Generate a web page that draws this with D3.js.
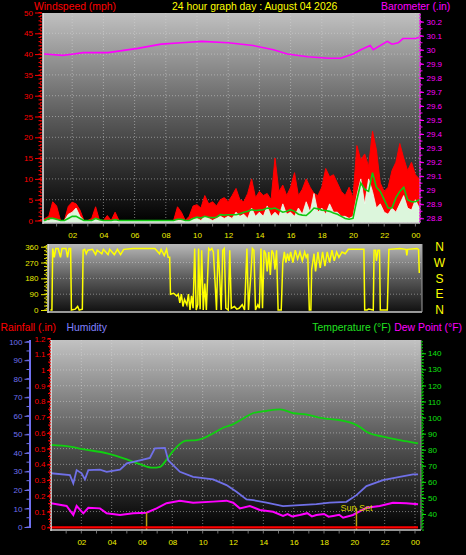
<!DOCTYPE html>
<html><head><meta charset="utf-8">
<script src="https://cdn.jsdelivr.net/npm/d3@7"></script>
<style>
body{margin:0;background:#000;}
svg{display:block;font-family:"Liberation Sans",Arial,sans-serif;}
</style>
</head><body>
<svg id="c" width="466" height="555"></svg>
<script>
// ---------------- DATA ----------------
const titleText = "24 hour graph day : August 04 2026";
const hourTicks = [2,4,6,8,10,12,14,16,18,20,22,24];
const hourLabels = ["02","04","06","08","10","12","14","16","18","20","22","00"];

// wind samples every 0.25 h starting at 00:00
const windStep = 0.25;
const windGust = [
 0,0.5,1,4.5,3.5,0,0,3.4,
 4.4,4,2.5,0,0,0.5,3.3,0,
 0,1.2,0,2,0,0,0,0,
 0,0,0,0,0,0,0,0,
 0,0,0,3.3,2,0,1,3.5,
 3.8,3,6,4,4.5,3.5,5,5.5,
 4.5,6,7.7,5,4.5,6.5,10,5.5,
 7,6,6.5,5,15,7,8.5,6,
 8,11.5,6,7.5,10,8,6.5,6,
 8,12.5,10.5,11,9,7,6,8,
 5.5,18,14.5,16,13,21.5,17,9,
 7,8,12,14,18.5,15,12,14,
 11,10];
const windAvg = [
 0,0,0.5,0.5,0.3,0,0,0.5,
 1,1,0.5,0,0,0,0.5,0.2,
 0,0,0,0.2,0,0,0,0,
 0,0,0,0,0,0,0,0,
 0,0,0,0.3,0.3,0,0,0.5,
 0.8,0.6,1,0.8,0.7,0.8,1.4,1.3,
 1.4,1.4,1.4,1.6,2,2.2,2.6,2.4,
 2.5,2.6,3,2.8,3,2.5,2,2.2,
 2.6,2.2,1.5,1.3,1.2,2,3,2.8,
 2.5,2.4,2.2,1.8,1.5,1,0.5,0.3,
 0.5,5,9,7.5,7,11.5,8,7,
 5,3,3,5.5,7,8,5,4.5,
 4.5,5];
const windSpeed = [
 0,0,0,0.5,0,0,0,1.5,
 2,3,1,0,0,0,0.5,0,
 0,0,0,0,0,0,0,0,
 0,0,0,0,0,0,0,0,
 0,0,0,0,0,0,0,0.5,
 0.5,0,1,0.5,0,0.5,1,0.5,
 1,0.5,2,1,1.5,0.5,3,1,
 2,1,3.5,1,2,1,4,1.5,
 2,1,3,1.5,4.5,2,6.5,2,
 3,1.5,4,2,2,1,1,0.5,
 1,6,10,4,10,7,3,4,
 2,1.5,3,2,4,6,3,2.5,
 5,3];

const baroHours = [0.2,1.4,2.1,2.7,4.3,6.2,7.7,9.0,10.3,12.0,13.6,14.9,15.8,17.1,18.4,19.2,20.0,20.5,21.1,21.3,22.2,22.5,22.9,23.2,24.0,24.25];
const baroValues = [29.97,29.96,29.97,29.98,29.98,30.01,30.04,30.05,30.06,30.05,30.03,30.00,29.97,29.95,29.94,29.94,29.97,30.00,30.03,30.00,30.06,30.04,30.05,30.08,30.08,30.09];

const dirHours = [0.6,0.7,0.75,0.85,0.95,1.1,1.25,1.35,1.6,1.7,1.8,1.9,1.95,2.2,2.35,2.45,2.65,2.7,2.8,2.9,3.0,3.3,3.5,3.6,3.9,4.0,4.3,4.4,4.7,4.9,5.1,5.3,5.9,6.5,7.3,7.6,7.7,7.9,8.05,8.15,8.25,8.3,8.5,8.7,8.8,8.9,9.0,9.1,9.2,9.35,9.45,9.55,9.65,9.75,9.85,9.95,10.05,10.1,10.2,10.3,10.4,10.5,10.6,10.75,10.85,10.95,11.05,11.15,11.25,11.35,11.45,11.55,11.65,11.75,11.85,12.0,12.1,12.2,12.4,12.55,12.7,12.9,13.05,13.2,13.3,13.45,13.55,13.65,13.75,13.9,14.0,14.1,14.2,14.3,14.4,14.5,14.6,14.7,14.8,14.9,15.0,15.1,15.2,15.4,15.5,15.6,15.7,15.8,15.9,16.0,16.15,16.3,16.45,16.6,16.75,16.9,17.0,17.1,17.2,17.3,17.35,17.5,17.6,17.75,17.9,18.05,18.2,18.35,18.5,18.65,18.8,18.95,19.1,19.3,19.5,19.7,20.0,20.3,20.7,20.75,20.9,21.0,21.3,21.35,21.45,21.5,21.6,21.7,21.75,22.2,22.3,23.0,23.4,23.45,23.5,24.1,24.2,24.25];
const dirValues = [0,0,350,300,350,350,300,350,350,300,350,350,0,5,20,0,5,340,345,320,340,345,315,340,320,345,315,345,315,345,315,345,350,350,350,320,345,310,345,300,300,90,95,80,90,40,90,20,60,30,90,0,80,10,350,0,30,350,5,340,0,150,0,350,340,350,330,170,0,345,200,0,340,350,10,0,340,10,20,5,10,30,0,350,0,200,350,340,0,30,10,350,10,340,320,220,330,200,340,320,230,340,0,0,270,330,270,320,280,330,270,340,290,330,280,330,300,320,0,0,230,320,220,330,240,330,250,330,270,340,280,330,300,330,320,345,345,345,345,0,0,5,0,340,340,280,340,340,0,0,345,350,345,310,345,350,345,210];

const tempHours = [0,1.25,2.1,3.7,5.0,5.9,6.7,7.2,7.6,8.1,8.9,9.6,10.5,11.35,12.0,12.7,13.3,14.2,15.1,16.0,16.8,17.9,19.0,19.9,20.35,20.8,21.9,23.0,24.2];
const tempValues = [83,81.9,80.3,77.8,74,70.9,68.8,69.4,73.6,79.8,85.6,86,89.2,93.7,95.8,99.6,102.7,104.1,105.1,102.7,102,99.6,98.5,96.4,94.3,91.2,88.1,86,84];

const humHours = [0,1.25,1.47,1.69,2.02,2.24,2.46,3.23,3.67,4.55,5.0,5.86,6.52,6.85,7.51,7.73,8.5,9.37,10.69,11.57,12.23,12.89,13.33,14.21,15.3,16.4,17.5,18.38,19.48,20.14,20.8,21.89,22.99,23.87,24.2];
const humValues = [29,28,23.5,30.7,29,25.7,30.7,31,29.8,31,34.3,36,37.3,42.4,42.7,36,29.8,27.1,25.7,22.6,19,14.9,14.5,13.1,11.3,11.8,12.4,13.1,13.6,17.2,22.1,25.3,27.1,28.4,28.4];

const dewHours = [0,1.03,1.47,1.69,2.13,2.46,3.23,3.67,4.55,5.42,6.3,6.96,7.62,8.5,9.37,10.69,11.57,12.01,12.45,13.11,13.77,14.65,15.3,15.6,15.9,16.4,16.9,17.2,17.5,18.0,18.3,18.6,19.0,19.26,19.91,20.8,21.67,22.55,23.43,24.2];
const dewValues = [46.7,45,39.4,45,40.4,43.9,43.5,40.4,39.4,40.4,40.8,43.5,46.7,48.3,47,47.7,48.3,47,43.5,45,42.5,41.4,38.8,40,38.5,39.4,40.5,38.5,39.4,40,38.3,38.8,39.5,37.7,39.4,43.9,45,47,46.7,46];

const rainHours = [0,24.2];
const rainValues = [0,0];

const sunEvents = [6.3, 20.14];
const sunLabels = ["", "Sun Set"];

const windTicks = [0,5,10,15,20,25,30,35,40,45,50];
const baroTicks = [28.8,28.9,29.0,29.1,29.2,29.3,29.4,29.5,29.6,29.7,29.8,29.9,30.0,30.1,30.2];
const dirTicks = [0,90,180,270,360];
const compass = ["N","E","S","W","N"];
const rainTicks = [0,0.1,0.2,0.3,0.4,0.5,0.6,0.7,0.8,0.9,1,1.1,1.2];
const humTicks = [0,10,20,30,40,50,60,70,80,90,100];
const tempTicks = [40,50,60,70,80,90,100,110,120,130,140];

// ---------------- DRAW ----------------
const svg = d3.select("#c");
const defs = svg.append("defs");
function grad(id, top, mid, bot){
  const g = defs.append("linearGradient").attr("id",id).attr("x1",0).attr("y1",0).attr("x2",0).attr("y2",1);
  g.append("stop").attr("offset","0%").attr("stop-color",top);
  g.append("stop").attr("offset","50%").attr("stop-color",mid);
  g.append("stop").attr("offset","100%").attr("stop-color",bot);
}
grad("gTop","#c0c0c0","#5a5a5a","#000");
grad("gDir","#b8b8b8","#5a5a5a","#101010");
grad("gBot","#c2c2c2","#5c5c5c","#000");

const P = {
  top:{x0:43,x1:420,y0:13,y1:223},
  dir:{x0:48,x1:422,y0:244,y1:312},
  bot:{x0:51,x1:421,y0:340,y1:530}
};
function panel(p, gid, cid){
  defs.append("clipPath").attr("id",cid).append("rect")
    .attr("x",p.x0).attr("y",p.y0).attr("width",p.x1-p.x0).attr("height",p.y1-p.y0);
  svg.append("rect").attr("x",p.x0).attr("y",p.y0).attr("width",p.x1-p.x0).attr("height",p.y1-p.y0)
    .attr("fill",`url(#${gid})`);
}
panel(P.top,"gTop","cTop");
panel(P.dir,"gDir","cDir");
panel(P.bot,"gBot","cBot");

const xTop = d3.scaleLinear().domain([0,24]).range([41,415.4]);
const xBot = d3.scaleLinear().domain([0,24]).range([51,415]);
const yWind = d3.scaleLinear().domain([0,50]).range([220.5,12.5]);
const yBaro = d3.scaleLinear().domain([28.8,30.2]).range([218.3,21.7]);
const yDir = d3.scaleLinear().domain([0,360]).range([310,246.7]);
const yHum = d3.scaleLinear().domain([0,100]).range([527,341.7]);
const yRain = d3.scaleLinear().domain([0,1.2]).range([527.3,338.5]);
const yTemp = d3.scaleLinear().domain([40,140]).range([514,353.3]);

const gridCol = "#d8d8d8";
function vgrid(p, xs, vals, clip){
  svg.append("g").attr("clip-path",`url(#${clip})`).selectAll("line").data(vals).join("line")
    .attr("x1",d=>xs(d)).attr("x2",d=>xs(d)).attr("y1",p.y0).attr("y2",p.y1)
    .attr("stroke",gridCol).attr("stroke-width",1).attr("stroke-dasharray","1,2").attr("opacity",0.5);
}
function hgrid(p, ys, vals, clip){
  svg.append("g").attr("clip-path",`url(#${clip})`).selectAll("line").data(vals).join("line")
    .attr("x1",p.x0).attr("x2",p.x1).attr("y1",d=>ys(d)).attr("y2",d=>ys(d))
    .attr("stroke",gridCol).attr("stroke-width",1).attr("stroke-dasharray","1,2").attr("opacity",0.5);
}
vgrid(P.top, xTop, hourTicks, "cTop");
hgrid(P.top, yWind, windTicks.slice(1), "cTop");
hgrid(P.dir, yDir, [90,180,270], "cDir");
vgrid(P.bot, xBot, hourTicks, "cBot");
hgrid(P.bot, yRain, rainTicks.slice(1), "cBot");

// ---- top chart series
const windTimes = windGust.map((d,i)=>i*windStep);
const gTop = svg.append("g").attr("clip-path","url(#cTop)");
gTop.append("path").datum(windGust)
  .attr("d", d3.area().x((d,i)=>xTop(windTimes[i])).y0(yWind(0)).y1(d=>yWind(d)))
  .attr("fill","#ff0000").attr("stroke","#ff0000").attr("stroke-width",1);
gTop.append("path").datum(windSpeed)
  .attr("d", d3.area().x((d,i)=>xTop(windTimes[i])).y0(yWind(0)+2).y1(d=>yWind(d)))
  .attr("fill","#dcf6dc").attr("stroke","#f0fff0").attr("stroke-width",0.8);
gTop.append("path").datum(windAvg)
  .attr("d", d3.line().x((d,i)=>xTop(windTimes[i])).y(d=>yWind(d)))
  .attr("fill","none").attr("stroke","#10c810").attr("stroke-width",1.6);
gTop.append("path").datum(baroValues)
  .attr("d", d3.line().x((d,i)=>xTop(baroHours[i])).y(d=>yBaro(d)))
  .attr("fill","none").attr("stroke","#ff00ff").attr("stroke-width",1.6);

// ---- direction
svg.append("g").attr("clip-path","url(#cDir)").append("path").datum(dirValues)
  .attr("d", d3.line().x((d,i)=>xTop(dirHours[i])).y(d=>yDir(d)))
  .attr("fill","none").attr("stroke","#ffff00").attr("stroke-width",1.5);

// ---- bottom chart
const gBot = svg.append("g").attr("clip-path","url(#cBot)");
gBot.append("path").datum(tempValues)
  .attr("d", d3.line().x((d,i)=>xBot(tempHours[i])).y(d=>yTemp(d)).curve(d3.curveMonotoneX))
  .attr("fill","none").attr("stroke","#10d010").attr("stroke-width",1.8);
gBot.append("path").datum(humValues)
  .attr("d", d3.line().x((d,i)=>xBot(humHours[i])).y(d=>yHum(d)))
  .attr("fill","none").attr("stroke","#7070e8").attr("stroke-width",1.8);
gBot.append("path").datum(dewValues)
  .attr("d", d3.line().x((d,i)=>xBot(dewHours[i])).y(d=>yTemp(d)))
  .attr("fill","none").attr("stroke","#ff00ff").attr("stroke-width",2);
gBot.selectAll("line.sun").data(sunEvents).join("line").attr("class","sun")
  .attr("x1",d=>xBot(d)).attr("x2",d=>xBot(d))
  .attr("y1",(d,i)=>i===0?512.5:508).attr("y2",P.bot.y1)
  .attr("stroke","#b8a010").attr("stroke-width",1.5);
gBot.selectAll("text.sun").data(sunEvents).join("text").attr("class","sun")
  .attr("x",d=>xBot(d)).attr("y",510.5).attr("text-anchor","middle")
  .attr("fill","#d8d000").attr("font-size",9).text((d,i)=>sunLabels[i]);
gBot.append("path").datum(rainValues)
  .attr("d", d3.line().x((d,i)=>xBot(rainHours[i])).y(d=>yRain(d)))
  .attr("fill","none").attr("stroke","#ff0000").attr("stroke-width",2.2);

// ---- borders (3D edge)
function borders(p){
  svg.append("line").attr("x1",p.x0).attr("x2",p.x0).attr("y1",p.y0).attr("y2",p.y1+1)
    .attr("stroke","#e8e8e8").attr("stroke-width",1.5);
  svg.append("line").attr("x1",p.x0).attr("x2",p.x1).attr("y1",p.y1).attr("y2",p.y1)
    .attr("stroke","#c8c8c8").attr("stroke-width",1.5);
  svg.append("line").attr("x1",p.x1).attr("x2",p.x1).attr("y1",p.y0).attr("y2",p.y1)
    .attr("stroke","#a0a0a0").attr("stroke-width",1);
}
borders(P.top); borders(P.dir); borders(P.bot);

// ---- axes
function styleAxis(g, color, size){
  g.select(".domain").remove();
  g.selectAll(".tick line").attr("stroke",color);
  g.selectAll(".tick text").attr("fill",color).attr("font-size",size).attr("font-family","'Liberation Sans',Arial,sans-serif");
}
function dotted(x, y0, y1, color){
  svg.append("line").attr("x1",x).attr("x2",x).attr("y1",y0).attr("y2",y1)
    .attr("stroke",color).attr("stroke-width",1.5).attr("stroke-dasharray","1.5,1.5");
}
function minor(x, ys, vals, len, color){
  svg.append("g").selectAll("line").data(vals).join("line")
    .attr("x1",x).attr("x2",x+len).attr("y1",d=>ys(d)).attr("y2",d=>ys(d))
    .attr("stroke",color).attr("stroke-width",1);
}
const fmt1 = d => String(+d.toFixed(1));

dotted(41, 12, 222, "#ff0000");
minor(41, yWind, d3.range(0,51,1), -2.5, "#ff0000");
styleAxis(svg.append("g").attr("transform","translate(42,0)")
  .call(d3.axisLeft(yWind).tickValues(windTicks).tickSize(7).tickPadding(2).tickFormat(d=>d)), "#ff0000", 8);
dotted(420, 14, 222, "#ff00ff");
minor(420, yBaro, d3.range(28.8,30.21,0.05), 2.5, "#ff00ff");
styleAxis(svg.append("g").attr("transform","translate(419.5,0)")
  .call(d3.axisRight(yBaro).tickValues(baroTicks).tickSize(4.5).tickPadding(2.5).tickFormat(fmt1)), "#ff00ff", 8);
svg.append("g").selectAll("line").data(d3.range(1,25,1)).join("line")
  .attr("x1",d=>xTop(d)).attr("x2",d=>xTop(d)).attr("y1",224).attr("y2",226.5)
  .attr("stroke","#707070");
styleAxis(svg.append("g").attr("transform","translate(0,232.5)")
  .call(d3.axisBottom(xTop).tickValues(hourTicks).tickSize(0).tickPadding(0).tickFormat((d,i)=>hourLabels[i])), "#f0f000", 8);

dotted(46.5, 245, 311, "#d8d800");
minor(46.5, yDir, d3.range(0,361,22.5), -2.5, "#d8d800");
styleAxis(svg.append("g").attr("transform","translate(47,0)")
  .call(d3.axisLeft(yDir).tickValues(dirTicks).tickSize(6).tickPadding(2.5).tickFormat(d=>d)), "#e8e800", 8);
svg.append("g").selectAll("text").data(dirTicks).join("text")
  .attr("x",439.5).attr("y",d=>yDir(d)).attr("dy","0.36em").attr("text-anchor","middle")
  .attr("fill","#ffff00").attr("font-size",12).text((d,i)=>compass[i]);

svg.append("line").attr("x1",30).attr("x2",30).attr("y1",340).attr("y2",528)
  .attr("stroke","#7070f0").attr("stroke-width",2);
minor(29, yHum, d3.range(0,101,5), -2.5, "#7070f0");
styleAxis(svg.append("g").attr("transform","translate(29.5,0)")
  .call(d3.axisLeft(yHum).tickValues(humTicks).tickSize(5).tickPadding(2).tickFormat(d=>d)), "#7070f0", 8);
dotted(50, 338, 529, "#ff0000");
minor(50, yRain, d3.range(0,1.21,0.05), -2, "#ff0000");
styleAxis(svg.append("g").attr("transform","translate(50.5,0)")
  .call(d3.axisLeft(yRain).tickValues(rainTicks).tickSize(3.5).tickPadding(1.5).tickFormat(fmt1)), "#ff0000", 8);
dotted(422, 341, 529, "#00d000");
minor(422, yTemp, d3.range(30,141,2), 2, "#00d000");
styleAxis(svg.append("g").attr("transform","translate(422,0)")
  .call(d3.axisRight(yTemp).tickValues(tempTicks).tickSize(4).tickPadding(2).tickFormat(d=>d)), "#10e010", 8);
svg.append("g").selectAll("line").data(d3.range(1,25,1)).join("line")
  .attr("x1",d=>xBot(d)).attr("x2",d=>xBot(d)).attr("y1",531).attr("y2",533.5)
  .attr("stroke","#707070");
styleAxis(svg.append("g").attr("transform","translate(0,539)")
  .call(d3.axisBottom(xBot).tickValues(hourTicks).tickSize(0).tickPadding(0).tickFormat((d,i)=>hourLabels[i])), "#f0f000", 8);

// ---- titles
function txt(x, y, s, color, anchor){
  svg.append("text").attr("x",x).attr("y",y).attr("fill",color).attr("font-size",10.4)
    .attr("text-anchor",anchor||"start").text(s);
}
txt(34, 9.5, "Windspeed (mph)", "#ff0000");
txt(172, 9.5, titleText, "#ffff00");
txt(381, 9.5, "Barometer (.in)", "#ff00ff");
txt(0.5, 331, "Rainfall (.in)", "#ff0000");
txt(66.5, 331, "Humidity", "#8080ff");
txt(391, 331, "Temperature (°F)", "#20e020", "end");
txt(462, 331, "Dew Point (°F)", "#ff00ff", "end");
</script>
</body></html>
